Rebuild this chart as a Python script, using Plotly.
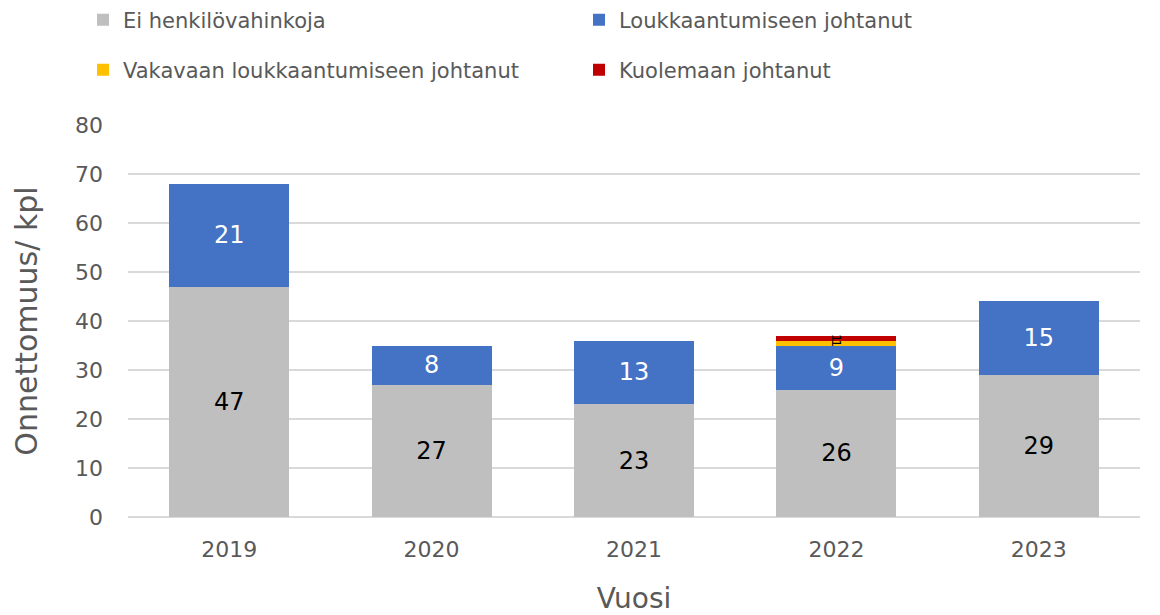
import plotly.graph_objects as go

years = ["2019", "2020", "2021", "2022", "2023"]
ei_henkilo = [47, 27, 23, 26, 29]
loukkaantuminen = [21, 8, 13, 9, 15]
vakava = [0, 0, 0, 1, 0]
kuolema = [0, 0, 0, 1, 0]

series = [
    ("Ei henkilövahinkoja", ei_henkilo, "#BFBFBF", "black", "legend", 24),
    ("Loukkaantumiseen johtanut", loukkaantuminen, "#4472C4", "white", "legend", 24),
    ("Vakavaan loukkaantumiseen johtanut", vakava, "#FFC000", "black", "legend2", 13),
    ("Kuolemaan johtanut", kuolema, "#C00000", "black", "legend2", 13),
]

FONT = "DejaVu Sans"
GREY = "#595959"
W, H = 1152, 607
L, R, T, B = 120, 20, 117, 98

fig = go.Figure()
for name, vals, color, tcol, leg, fs in series:
    fig.add_trace(go.Bar(
        name=name, x=years, y=vals, legend=leg,
        marker=dict(color=color, line=dict(width=0)),
        text=[str(v) if v else "" for v in vals],
        textposition="inside", insidetextanchor="middle",
        constraintext="none" if fs < 20 else "both",
        textfont=dict(color=tcol, size=fs, family=FONT),
        width=0.593,
    ))

common_leg = dict(
    orientation="h", x=75 / W, xanchor="left", yanchor="middle",
    xref="container", yref="container", entrywidth=451, entrywidthmode="pixels",
    font=dict(size=21, color=GREY, family=FONT), traceorder="normal",
    bgcolor="rgba(0,0,0,0)",
)

fig.update_layout(
    barmode="stack",
    width=W, height=H,
    margin=dict(l=L, r=R, t=T, b=B, autoexpand=False),
    paper_bgcolor="white", plot_bgcolor="white",
    font=dict(family=FONT, color=GREY),
    legend=dict(common_leg, y=1 - 12 / H),
    legend2=dict(common_leg, y=1 - 62 / H),
    xaxis=dict(
        title=dict(text="Vuosi", font=dict(size=28, color=GREY, family=FONT), standoff=29),
        tickfont=dict(size=22, color=GREY, family=FONT), showline=False,
        ticklabelstandoff=17, automargin=False,
    ),
    yaxis=dict(
        title=dict(text="Onnettomuus/ kpl", font=dict(size=30, color=GREY, family=FONT), standoff=28),
        range=[0, 80], dtick=10, tickfont=dict(size=22, color=GREY, family=FONT),
        gridcolor="#D9D9D9", gridwidth=1.5, zeroline=True, zerolinecolor="#D9D9D9",
        zerolinewidth=1.5, ticks="", ticklabelstandoff=24, automargin=False,
    ),
)
fig.write_html("out.html")
